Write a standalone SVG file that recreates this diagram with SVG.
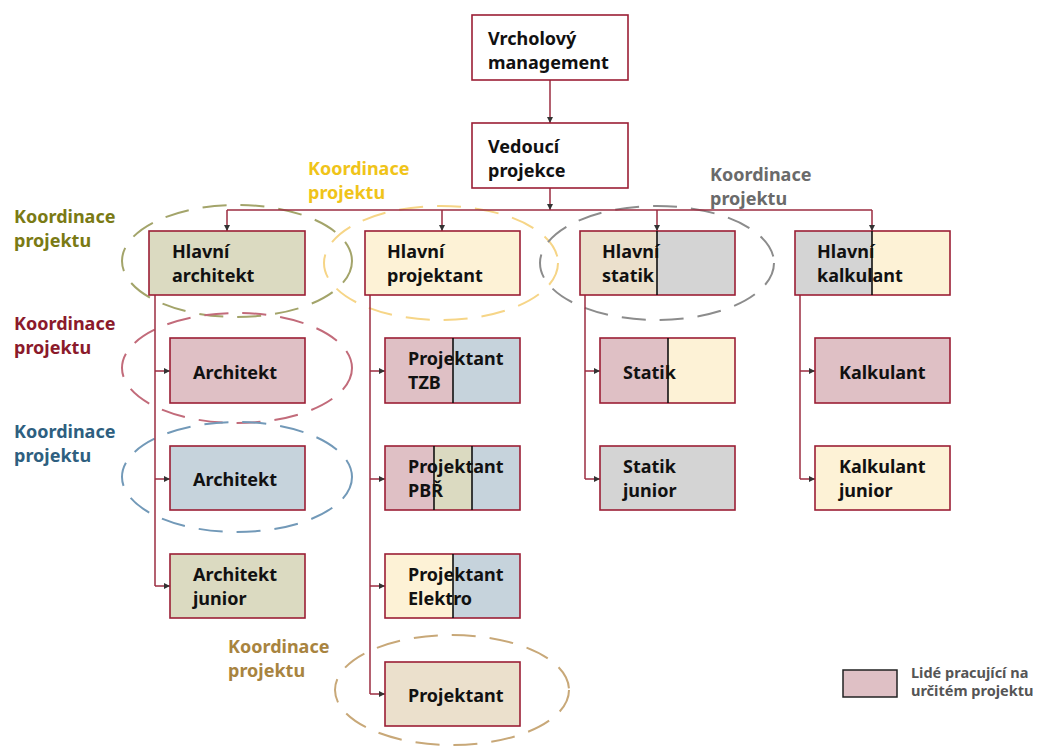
<svg xmlns="http://www.w3.org/2000/svg" width="1037" height="749" viewBox="0 0 1037 749">
  <style>
    .box { stroke: #9b1f35; stroke-width: 1.6; }
    .t { font-family: "Noto Sans", "DejaVu Sans", sans-serif; font-weight: 700; font-size: 18px; fill: #111; }
    .lbl { font-family: "Noto Sans", "DejaVu Sans", sans-serif; font-weight: 700; font-size: 18px; }
    .div { stroke: #111; stroke-width: 1.6; }
    .conn { fill: none; stroke: #9b2d40; stroke-width: 1.5; }
    .ell { fill: none; stroke-width: 2; stroke-dasharray: 24 14; }
    .pink { fill: #dfc0c5; }
    .blue { fill: #c6d3dc; }
    .olive { fill: #dbdac1; }
    .cream { fill: #fdf2d6; }
    .beige { fill: #ebe0cc; }
    .gray { fill: #d4d4d4; }
    .white { fill: #ffffff; }
  </style>
  <defs>
    <marker id="arr" viewBox="0 0 6 6" refX="6" refY="3" markerWidth="6" markerHeight="6" markerUnits="userSpaceOnUse" orient="auto">
      <path d="M0,0 L6,3 L0,6 z" fill="#333"/>
    </marker>
  </defs>

  <rect width="1037" height="749" fill="#ffffff"/>

  <!-- coordination ellipses -->
  <g id="coordination">
    <ellipse class="ell" cx="237" cy="261" rx="115" ry="56" stroke="#a3a46a"/>
    <ellipse class="ell" cx="441" cy="263" rx="117" ry="57" stroke="#f6d587"/>
    <ellipse class="ell" cx="657" cy="263" rx="117" ry="57" stroke="#8c8c8c"/>
    <ellipse class="ell" cx="237" cy="368" rx="115" ry="55" stroke="#c26b7a"/>
    <ellipse class="ell" cx="237" cy="477" rx="115" ry="55" stroke="#7299b8"/>
    <ellipse class="ell" cx="452" cy="690" rx="117" ry="55" stroke="#c8a878"/>
  </g>

  <!-- coordination labels -->
  <g id="labels">
    <text class="lbl" fill="#7a7a14"><tspan x="14" y="223">Koordinace</tspan><tspan x="14" y="247">projektu</tspan></text>
    <text class="lbl" fill="#f0c419"><tspan x="308" y="175">Koordinace</tspan><tspan x="308" y="199">projektu</tspan></text>
    <text class="lbl" fill="#6a6a6a"><tspan x="710" y="181">Koordinace</tspan><tspan x="710" y="205">projektu</tspan></text>
    <text class="lbl" fill="#8b1a2b"><tspan x="14" y="330">Koordinace</tspan><tspan x="14" y="354">projektu</tspan></text>
    <text class="lbl" fill="#2e5f80"><tspan x="14" y="438">Koordinace</tspan><tspan x="14" y="462">projektu</tspan></text>
    <text class="lbl" fill="#a8843f"><tspan x="228" y="653">Koordinace</tspan><tspan x="228" y="677">projektu</tspan></text>
  </g>

  <!-- connectors -->
  <g id="connectors">
    <path class="conn" d="M550,80 V123" marker-end="url(#arr)"/>
    <path class="conn" d="M550,188 V210" marker-end="url(#arr)"/>
    <path class="conn" d="M227,210 H872"/>
    <path class="conn" d="M227,210 V231" marker-end="url(#arr)"/>
    <path class="conn" d="M442,210 V231" marker-end="url(#arr)"/>
    <path class="conn" d="M657,210 V231" marker-end="url(#arr)"/>
    <path class="conn" d="M872,210 V231" marker-end="url(#arr)"/>

    <path class="conn" d="M155,295 V586"/>
    <path class="conn" d="M155,371 H170" marker-end="url(#arr)"/>
    <path class="conn" d="M155,479 H170" marker-end="url(#arr)"/>
    <path class="conn" d="M155,586 H170" marker-end="url(#arr)"/>

    <path class="conn" d="M370,295 V694"/>
    <path class="conn" d="M370,371 H385" marker-end="url(#arr)"/>
    <path class="conn" d="M370,479 H385" marker-end="url(#arr)"/>
    <path class="conn" d="M370,586 H385" marker-end="url(#arr)"/>
    <path class="conn" d="M370,694 H385" marker-end="url(#arr)"/>

    <path class="conn" d="M585,295 V479"/>
    <path class="conn" d="M585,371 H600" marker-end="url(#arr)"/>
    <path class="conn" d="M585,479 H600" marker-end="url(#arr)"/>

    <path class="conn" d="M800,295 V479"/>
    <path class="conn" d="M800,371 H815" marker-end="url(#arr)"/>
    <path class="conn" d="M800,479 H815" marker-end="url(#arr)"/>
  </g>

  <!-- nodes -->
  <g id="vrcholovy-management">
    <rect class="box white" x="472" y="15" width="156" height="65"/>
    <text class="t"><tspan x="488" y="45">Vrcholový</tspan><tspan x="488" y="69">management</tspan></text>
  </g>
  <g id="vedouci-projekce">
    <rect class="box white" x="472" y="123" width="156" height="65"/>
    <text class="t"><tspan x="488" y="153">Vedoucí</tspan><tspan x="488" y="177">projekce</tspan></text>
  </g>

  <g id="hlavni-architekt">
    <rect class="box olive" x="149" y="231" width="156" height="64"/>
    <text class="t"><tspan x="172" y="258">Hlavní</tspan><tspan x="172" y="282">architekt</tspan></text>
  </g>
  <g id="hlavni-projektant">
    <rect class="box cream" x="365" y="231" width="155" height="64"/>
    <text class="t"><tspan x="387" y="258">Hlavní</tspan><tspan x="387" y="282">projektant</tspan></text>
  </g>
  <g id="hlavni-statik">
    <rect class="gray" x="580" y="231" width="155" height="64"/>
    <rect class="beige" x="580" y="231" width="77" height="64"/>
    <rect class="box" fill="none" x="580" y="231" width="155" height="64"/>
    <line class="div" x1="657" y1="231" x2="657" y2="295"/>
    <text class="t"><tspan x="602" y="258">Hlavní</tspan><tspan x="602" y="282">statik</tspan></text>
  </g>
  <g id="hlavni-kalkulant">
    <rect class="cream" x="795" y="231" width="155" height="64"/>
    <rect class="gray" x="795" y="231" width="77" height="64"/>
    <rect class="box" fill="none" x="795" y="231" width="155" height="64"/>
    <line class="div" x1="872" y1="231" x2="872" y2="295"/>
    <text class="t"><tspan x="817" y="258">Hlavní</tspan><tspan x="817" y="282">kalkulant</tspan></text>
  </g>

  <g id="architekt-1">
    <rect class="box pink" x="170" y="338" width="135" height="65"/>
    <text class="t" x="193" y="379">Architekt</text>
  </g>
  <g id="architekt-2">
    <rect class="box blue" x="170" y="446" width="135" height="64"/>
    <text class="t" x="193" y="486">Architekt</text>
  </g>
  <g id="architekt-junior">
    <rect class="box olive" x="170" y="554" width="135" height="64"/>
    <text class="t"><tspan x="193" y="581">Architekt</tspan><tspan x="193" y="605">junior</tspan></text>
  </g>

  <g id="projektant-tzb">
    <rect class="blue" x="385" y="338" width="135" height="65"/>
    <rect class="pink" x="385" y="338" width="68" height="65"/>
    <rect class="box" fill="none" x="385" y="338" width="135" height="65"/>
    <line class="div" x1="453" y1="338" x2="453" y2="403"/>
    <text class="t"><tspan x="408" y="365">Projektant</tspan><tspan x="408" y="389">TZB</tspan></text>
  </g>
  <g id="projektant-pbr">
    <rect class="blue" x="385" y="446" width="135" height="64"/>
    <rect class="olive" x="434" y="446" width="38" height="64"/>
    <rect class="pink" x="385" y="446" width="49" height="64"/>
    <rect class="box" fill="none" x="385" y="446" width="135" height="64"/>
    <line class="div" x1="434" y1="446" x2="434" y2="510"/>
    <line class="div" x1="472" y1="446" x2="472" y2="510"/>
    <text class="t"><tspan x="408" y="473">Projektant</tspan><tspan x="408" y="497">PBŘ</tspan></text>
  </g>
  <g id="projektant-elektro">
    <rect class="blue" x="385" y="554" width="135" height="64"/>
    <rect class="cream" x="385" y="554" width="68" height="64"/>
    <rect class="box" fill="none" x="385" y="554" width="135" height="64"/>
    <line class="div" x1="453" y1="554" x2="453" y2="618"/>
    <text class="t"><tspan x="408" y="581">Projektant</tspan><tspan x="408" y="605">Elektro</tspan></text>
  </g>
  <g id="projektant">
    <rect class="box beige" x="385" y="662" width="135" height="64"/>
    <text class="t" x="408" y="702">Projektant</text>
  </g>

  <g id="statik">
    <rect class="cream" x="600" y="338" width="135" height="65"/>
    <rect class="pink" x="600" y="338" width="68" height="65"/>
    <rect class="box" fill="none" x="600" y="338" width="135" height="65"/>
    <line class="div" x1="668" y1="338" x2="668" y2="403"/>
    <text class="t" x="623" y="379">Statik</text>
  </g>
  <g id="statik-junior">
    <rect class="box gray" x="600" y="446" width="135" height="64"/>
    <text class="t"><tspan x="623" y="473">Statik</tspan><tspan x="623" y="497">junior</tspan></text>
  </g>

  <g id="kalkulant">
    <rect class="box pink" x="815" y="338" width="135" height="65"/>
    <text class="t" x="839" y="379">Kalkulant</text>
  </g>
  <g id="kalkulant-junior">
    <rect class="box cream" x="815" y="446" width="135" height="64"/>
    <text class="t"><tspan x="839" y="473">Kalkulant</tspan><tspan x="839" y="497">junior</tspan></text>
  </g>

  <!-- legend -->
  <g id="legend">
    <rect x="843" y="670" width="54" height="27" fill="#dfc0c5" stroke="#222" stroke-width="1.5"/>
    <text font-family="'Noto Sans', 'DejaVu Sans', sans-serif" font-weight="700" font-size="14.5" fill="#555"><tspan x="911" y="678">Lidé pracující na</tspan><tspan x="911" y="696">určitém projektu</tspan></text>
  </g>
</svg>
